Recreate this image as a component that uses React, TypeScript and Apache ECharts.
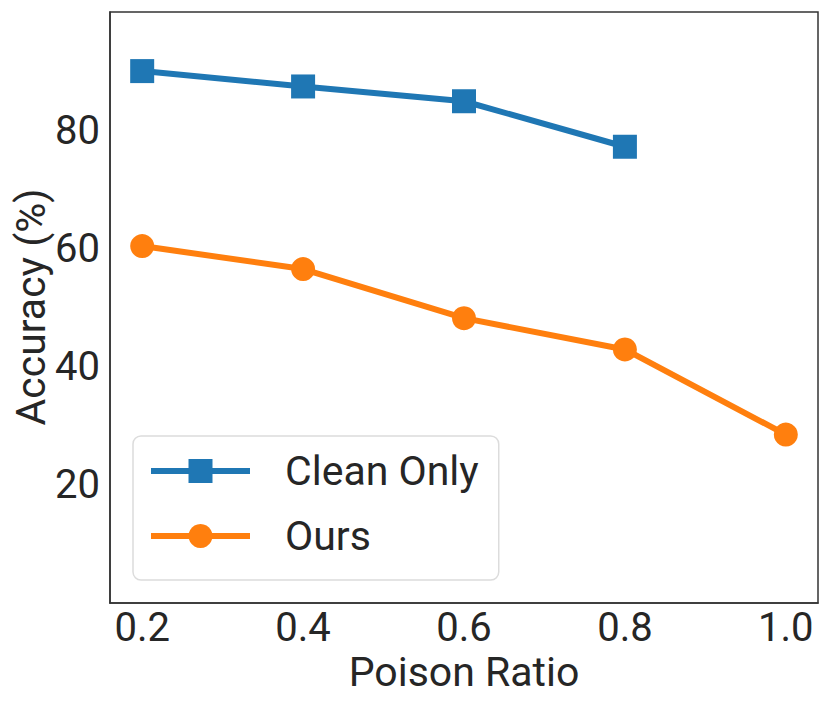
import React, { useEffect, useRef } from "react";
import * as echarts from "echarts";

const ratios = [0.2, 0.4, 0.6, 0.8, 1.0];
const cleanOnly = [90.0, 87.4, 84.9, 77.2];
const ours = [60.4, 56.5, 48.2, 42.9, 28.5];
const seriesNames = ["Clean Only", "Ours"];
const yTicks = [20, 40, 60, 80];
const yAxisName = "Accuracy (%)";

const FONT = "Roboto, DejaVu Sans, sans-serif";
const TXT = "#262626";

export default function App() {
  const ref = useRef<HTMLDivElement>(null);
  useEffect(() => {
    if (!ref.current) return;
    const chart = echarts.init(ref.current, undefined, { renderer: "svg" });
    chart.setOption({
      animation: false,
      grid: { left: 102, top: 4, width: 708, height: 591, containLabel: false, outerBoundsMode: "none" },
      xAxis: {
        type: "value",
        min: 0.16,
        max: 1.04,
        name: "Poison Ratio",
        nameLocation: "middle",
        nameGap: 35,
        nameTextStyle: { fontSize: 41, color: TXT, fontFamily: FONT },
        axisLine: { show: true, onZero: false, lineStyle: { color: "#333", width: 1.5 } },
        axisTick: { show: false },
        splitLine: { show: false },
        axisLabel: {
          fontSize: 40,
          color: TXT,
          fontFamily: FONT,
          margin: 4,
          customValues: ratios,
          formatter: (v: number) => v.toFixed(1),
        },
      },
      yAxis: {
        type: "value",
        min: 0,
        max: 100,
        axisLine: { show: true, onZero: false, lineStyle: { color: "#333", width: 1.5 } },
        axisTick: { show: false },
        splitLine: { show: false },
        axisLabel: {
          fontSize: 40,
          color: TXT,
          fontFamily: FONT,
          margin: 10,
          customValues: yTicks,
        },
      },
      legend: {
        left: 125,
        top: 428,
        orient: "vertical",
        itemWidth: 99,
        itemHeight: 30,
        itemGap: 21,
        padding: [13, 20, 22, 15],
        borderColor: "#dcdcdc",
        borderWidth: 1.5,
        borderRadius: 8,
        backgroundColor: "rgba(255,255,255,0.8)",
        lineStyle: { width: 6 },
        textStyle: { fontSize: 41, lineHeight: 44, color: TXT, fontFamily: FONT, padding: [0, 0, 0, 30] },
        data: seriesNames,
      },
      series: [
        {
          name: seriesNames[0],
          type: "line",
          data: cleanOnly.map((v, i) => [ratios[i], v]),
          symbol: "rect",
          symbolSize: 24,
          color: "#1f77b4",
          lineStyle: { width: 6, color: "#1f77b4" },
          itemStyle: { color: "#1f77b4" },
        },
        {
          name: seriesNames[1],
          type: "line",
          data: ours.map((v, i) => [ratios[i], v]),
          symbol: "circle",
          symbolSize: 24,
          color: "#ff7f0e",
          lineStyle: { width: 6, color: "#ff7f0e" },
          itemStyle: { color: "#ff7f0e" },
        },
      ],
      graphic: [
        {
          type: "rect",
          shape: { x: 102, y: 4, width: 708, height: 591 },
          style: { fill: "none", stroke: "#333", lineWidth: 1.5 },
          silent: true,
        },
        {
          type: "text",
          x: 23,
          y: 299,
          rotation: Math.PI / 2,
          silent: true,
          style: {
            text: yAxisName,
            fontSize: 41,
            fontFamily: FONT,
            fill: TXT,
            align: "center",
            verticalAlign: "middle",
          },
        },
      ],
    });
    return () => chart.dispose();
  }, []);
  return <div ref={ref} style={{ width: 814, height: 690 }} />;
}
